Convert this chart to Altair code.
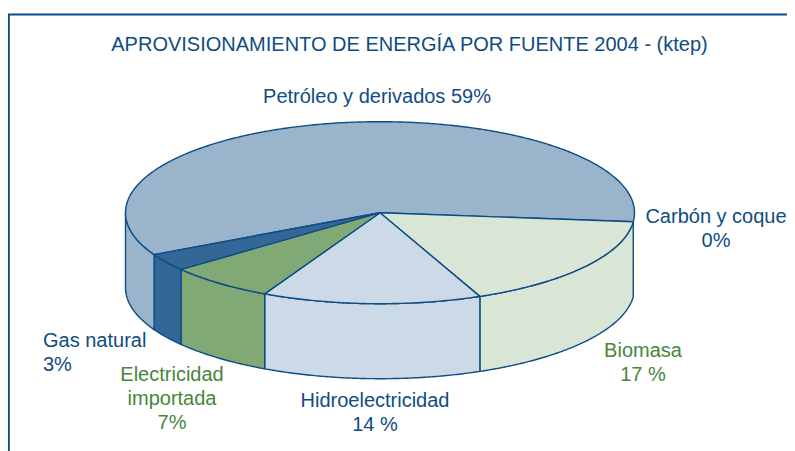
import math
import altair as alt

# Data
categories = ["Petróleo y derivados", "Carbón y coque", "Biomasa", "Hidroelectricidad", "Electricidad importada", "Gas natural"]
shares = [59.2, 0, 17.0, 13.9, 6.8, 3.1]
colors = ["#9ab4cb", "#9ab4cb", "#d9e6d6", "#ccd9e6", "#80a975", "#336797"]
# walking clockwise from the right-hand edge, front of the pie first
order = ["Carbón y coque", "Biomasa", "Hidroelectricidad", "Electricidad importada", "Gas natural", "Petróleo y derivados"]

title_text = "APROVISIONAMIENTO DE ENERGÍA POR FUENTE 2004 - (ktep)"
BLUE = "#0f4c81"
GREEN = "#47863b"
labels = [
    ("Petróleo y derivados 59%", BLUE),
    ("Carbón y coque\n0%", BLUE),
    ("Biomasa\n17 %", GREEN),
    ("Hidroelectricidad\n14 %", BLUE),
    ("Electricidad\nimportada\n7%", GREEN),
    ("Gas natural\n3%", BLUE),
]

# Pie geometry (chart pixels; page offset is 8px)
CX, CY, RX, RY, DEPTH, START = 372.0, 204.7, 254.5, 91.0, 75.0, 5.7
W, H = 779, 443


def pt(t, dy=0.0):
    a = math.radians(t)
    return [CX + RX * math.cos(a), CY + RY * math.sin(a) + dy]


def arc(t1, t2, dy=0.0):
    n = max(2, int(abs(t2 - t1) * 2) + 1)
    return [pt(t1 + (t2 - t1) * i / (n - 1), dy) for i in range(n)]


def feature(name, ring):
    ring = ring + [ring[0]]
    return {"type": "Feature", "properties": {"name": name},
            "geometry": {"type": "Polygon", "coordinates": [ring]}}


share_of = dict(zip(categories, shares))
walls, tops = [], []
t = START
for name in order:
    s = share_of[name]
    if s == 0:
        continue
    t2 = t + s * 3.6
    # side wall: only the part facing the viewer
    a, b = max(t, 0), min(t2, 180)
    if b > a:
        walls.append(feature(name, arc(a, b) + arc(b, a, DEPTH)))
    tops.append((name, feature(name, [[CX, CY]] + arc(t, t2))))
    t = t2
# largest slice is at the back: paint it first
tops.sort(key=lambda p: -share_of[p[0]])
features = walls + [f for _, f in tops]

color = alt.Color("properties.name:N", legend=None,
                  scale=alt.Scale(domain=categories, range=colors))
pie = alt.Chart(alt.Data(values=features)).mark_geoshape(
    stroke="#0b4d85", strokeWidth=1.4, strokeJoin="round"
).encode(color=color).project(type="identity", scale=1, translate=[0, 0])

frame = [
    alt.Chart(alt.Data(values=[{"a": 0}])).mark_rule(color="#0b4d85", strokeWidth=2).encode(
        x=alt.value(0.8), y=alt.value(6.5), y2=alt.value(H)),
    alt.Chart(alt.Data(values=[{"a": 0}])).mark_rule(color="#0b4d85", strokeWidth=2).encode(
        x=alt.value(0), x2=alt.value(W), y=alt.value(6.5)),
]


def label(text, color_, x, y, align="center", size=20):
    return alt.Chart(alt.Data(values=[{"t": text}])).mark_text(
        font="Liberation Sans", fontSize=size, color=color_, align=align,
        baseline="alphabetic", lineBreak="\n", lineHeight=24
    ).encode(text="t:N", x=alt.value(x), y=alt.value(y))


placements = [(369, 95, "center"), (708, 215, "center"), (635, 349, "center"),
              (367, 399, "center"), (164, 373, "center"), (35, 339, "left")]
texts = [label(title_text, BLUE, 401.5, 43)]
for (txt, col), (x, y, al) in zip(labels, placements):
    texts.append(label(txt, col, x, y, al))

chart = alt.layer(pie, *frame, *texts).properties(
    width=W, height=H, padding=0, background="white",
    autosize=alt.AutoSizeParams(type="none")
).configure_view(stroke=None)

chart.save("out.html", embed_options={"renderer": "svg", "actions": False})
